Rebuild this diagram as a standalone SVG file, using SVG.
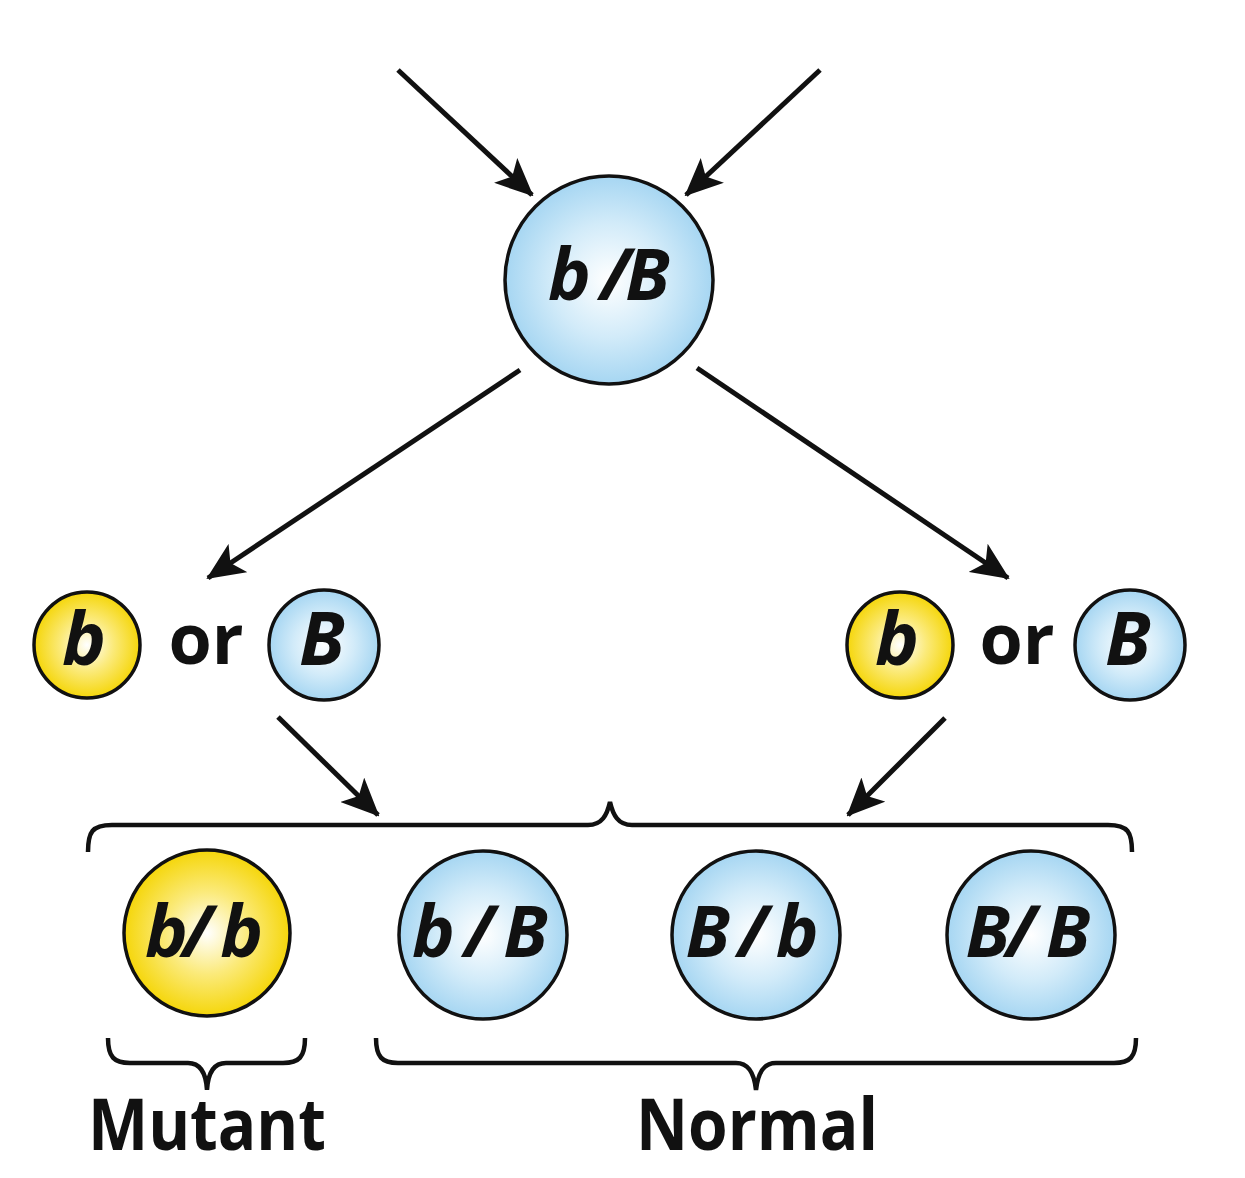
<svg xmlns="http://www.w3.org/2000/svg" width="1245" height="1178" viewBox="0 0 1245 1178">
<defs>
<radialGradient id="blue" cx="0.5" cy="0.5" r="0.5">
<stop offset="0" stop-color="#ffffff"/>
<stop offset="0.55" stop-color="#d2ebf9"/>
<stop offset="1" stop-color="#a6d6f2"/>
</radialGradient>
<radialGradient id="yellow" cx="0.5" cy="0.5" r="0.5">
<stop offset="0" stop-color="#ffffff"/>
<stop offset="0.5" stop-color="#fbea7a"/>
<stop offset="1" stop-color="#f5d60a"/>
</radialGradient>
<marker id="ah" markerUnits="userSpaceOnUse" markerWidth="38" markerHeight="34" viewBox="0 0 38 34" refX="36" refY="17" orient="auto">
<path d="M0,0 L38,17 L0,34 L9,17 z" fill="#111"/>
</marker>
</defs>
<style>
.blue{fill:url(#blue);stroke:#111;stroke-width:3.5}
.yel{fill:url(#yellow);stroke:#111;stroke-width:3.5}
.lab{font-family:"Open Sans","Noto Sans","DejaVu Sans",sans-serif;font-weight:bold;font-style:italic;fill:#111;text-anchor:middle}
.word{font-family:"Open Sans","Noto Sans","DejaVu Sans",sans-serif;font-weight:bold;fill:#111;text-anchor:middle}
.arr{stroke:#111;stroke-width:5;fill:none;marker-end:url(#ah)}
.brace{stroke:#111;stroke-width:4.5;fill:none}
</style>
<rect width="1245" height="1178" fill="#fff"/>
<g id="connectors">
<line class="arr" x1="398" y1="70" x2="532" y2="195"/>
<line class="arr" x1="820" y1="70" x2="686" y2="195"/>
<line class="arr" x1="520" y1="370" x2="208" y2="578"/>
<line class="arr" x1="697" y1="368" x2="1008" y2="578"/>
<line class="arr" x1="278" y1="717" x2="378" y2="815"/>
<line class="arr" x1="945" y1="718" x2="848" y2="815"/>
</g>
<g id="brace-top">
<path class="brace" d="M88,852 C88,832 92,825 112,825 L588,825 C602,825 607,815 610,802 C613,815 618,825 632,825 L1108,825 C1128,825 1132,832 1132,852"/>
</g>
<g id="parent">
<circle class="blue" cx="609" cy="280" r="104"/>
<text class="lab" x="609" y="300" font-size="72" textLength="122" lengthAdjust="spacing">b /B</text>
</g>
<g id="gamete-left-b">
<circle class="yel" cx="87" cy="645" r="53"/>
<text class="lab" x="84" y="665" font-size="74">b</text>
</g>
<g id="or-left"><text class="word" x="206" y="664" font-size="70">or</text></g>
<g id="gamete-left-B">
<circle class="blue" cx="324" cy="645" r="55"/>
<text class="lab" x="322" y="665" font-size="74">B</text>
</g>
<g id="gamete-right-b">
<circle class="yel" cx="900" cy="645" r="53"/>
<text class="lab" x="897" y="665" font-size="74">b</text>
</g>
<g id="or-right"><text class="word" x="1017" y="664" font-size="70">or</text></g>
<g id="gamete-right-B">
<circle class="blue" cx="1130" cy="645" r="55"/>
<text class="lab" x="1128" y="665" font-size="74">B</text>
</g>
<g id="bb">
<circle class="yel" cx="207" cy="933" r="83"/>
<text class="lab" x="204" y="957" font-size="72" textLength="118" lengthAdjust="spacing">b/ b</text>
</g>
<g id="bB">
<circle class="blue" cx="483" cy="935" r="84"/>
<text class="lab" x="480" y="957" font-size="72" textLength="136" lengthAdjust="spacing">b / B</text>
</g>
<g id="Bb">
<circle class="blue" cx="756" cy="935" r="84"/>
<text class="lab" x="752" y="957" font-size="72" textLength="133" lengthAdjust="spacing">B / b</text>
</g>
<g id="BB">
<circle class="blue" cx="1031" cy="935" r="84"/>
<text class="lab" x="1028" y="957" font-size="72" textLength="125" lengthAdjust="spacing">B/ B</text>
</g>
<g id="mutant">
<path class="brace" d="M108,1038 C108,1057 114,1063 130,1063 L188,1063 C200,1063 206,1072 207,1090 C208,1072 214,1063 226,1063 L283,1063 C299,1063 305,1057 305,1038"/>
<text class="word" x="207" y="1150" font-size="72" textLength="238" lengthAdjust="spacingAndGlyphs">Mutant</text>
</g>
<g id="normal">
<path class="brace" d="M376,1038 C376,1057 382,1063 398,1063 L736,1063 C748,1063 754,1072 756,1090 C758,1072 764,1063 776,1063 L1114,1063 C1130,1063 1136,1057 1136,1038"/>
<text class="word" x="757" y="1150" font-size="72" textLength="242" lengthAdjust="spacingAndGlyphs">Normal</text>
</g>
</svg>
